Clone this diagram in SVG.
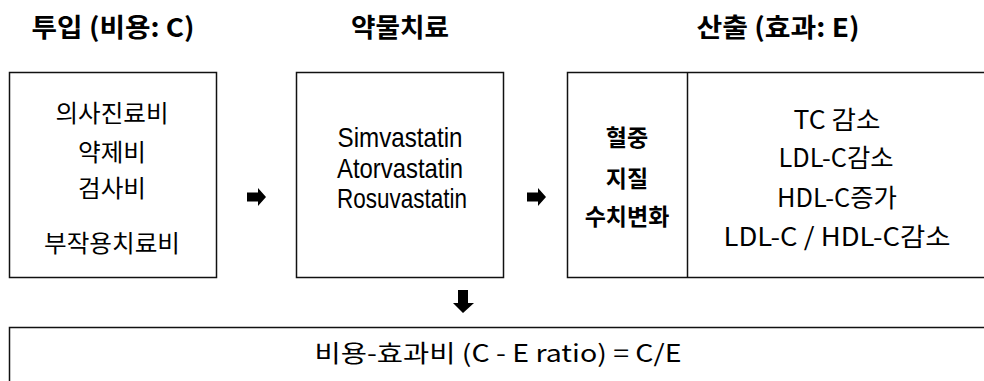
<svg xmlns="http://www.w3.org/2000/svg" width="984" height="381" viewBox="0 0 984 381">
<style>
.box{fill:#fff;stroke:#111;stroke-width:1.5}
.hd{font-family:"Noto Sans CJK KR","Liberation Sans",sans-serif;font-weight:bold;font-size:26px;fill:#000}
.kr{font-family:"Noto Sans CJK KR",sans-serif;font-size:24px;fill:#000}
.lat{font-family:"Liberation Sans","Noto Sans CJK KR",sans-serif;font-size:28px;fill:#000}
.mono{font-family:"Noto Sans CJK KR",sans-serif;font-size:25px;fill:#000}
.bd{font-family:"Noto Sans CJK KR",sans-serif;font-weight:bold;font-size:23px;fill:#000}
.arr{fill:#000}
text{text-anchor:middle;dominant-baseline:central}
</style>
<defs>
<path id="ra" d="M0,-4.5 H11 V-9 L19,0 L11,9 V4.5 H0 Z"/>
</defs>
<g id="headers">
<text class="hd" x="113" y="25" textLength="163" lengthAdjust="spacingAndGlyphs">투입 (비용: C)</text>
<text class="hd" x="400" y="25" textLength="98" lengthAdjust="spacingAndGlyphs">약물치료</text>
<text class="hd" x="778" y="25" textLength="163" lengthAdjust="spacingAndGlyphs">산출 (효과: E)</text>
</g>
<g id="input">
<rect class="box" x="9.5" y="72.5" width="207" height="205"/>
<text class="kr" x="112" y="111" textLength="113" lengthAdjust="spacingAndGlyphs">의사진료비</text>
<text class="kr" x="112" y="150" textLength="68" lengthAdjust="spacingAndGlyphs">약제비</text>
<text class="kr" x="112" y="186" textLength="68" lengthAdjust="spacingAndGlyphs">검사비</text>
<text class="kr" x="112" y="241" textLength="136" lengthAdjust="spacingAndGlyphs">부작용치료비</text>
</g>
<g id="drug">
<rect class="box" x="296.5" y="72.5" width="207" height="205"/>
<text class="lat" x="400" y="137" textLength="125" lengthAdjust="spacingAndGlyphs">Simvastatin</text>
<text class="lat" x="400" y="168" textLength="126" lengthAdjust="spacingAndGlyphs">Atorvastatin</text>
<text class="lat" x="402" y="198" textLength="130" lengthAdjust="spacingAndGlyphs">Rosuvastatin</text>
</g>
<g id="output">
<rect class="box" x="567.5" y="72.5" width="430" height="205"/>
<line x1="687.5" y1="72.5" x2="687.5" y2="277.5" stroke="#111" stroke-width="1.5"/>
<text class="bd" x="627" y="136">혈중</text>
<text class="bd" x="627" y="177">지질</text>
<text class="bd" x="627" y="215">수치변화</text>
<text class="mono" x="837" y="118" textLength="87" lengthAdjust="spacingAndGlyphs">TC 감소</text>
<text class="mono" x="836" y="156" textLength="115" lengthAdjust="spacingAndGlyphs">LDL-C감소</text>
<text class="mono" x="837" y="196" textLength="120" lengthAdjust="spacingAndGlyphs">HDL-C증가</text>
<text class="mono" x="837" y="235" textLength="227" lengthAdjust="spacingAndGlyphs">LDL-C / HDL-C감소</text>
</g>
<g id="result">
<rect class="box" x="9.5" y="327.5" width="1000" height="100"/>
<text class="kr" x="498" y="351" font-size="23" textLength="367" lengthAdjust="spacingAndGlyphs">비용-효과비 (C - E ratio) = C/E</text>
</g>
<g id="connectors">
<use href="#ra" class="arr" x="247" y="197"/>
<use href="#ra" class="arr" x="527" y="197"/>
<path class="arr" d="M458,290 H468 V303 H474 L463,313 L453,303 H458 Z"/>
</g>
</svg>
